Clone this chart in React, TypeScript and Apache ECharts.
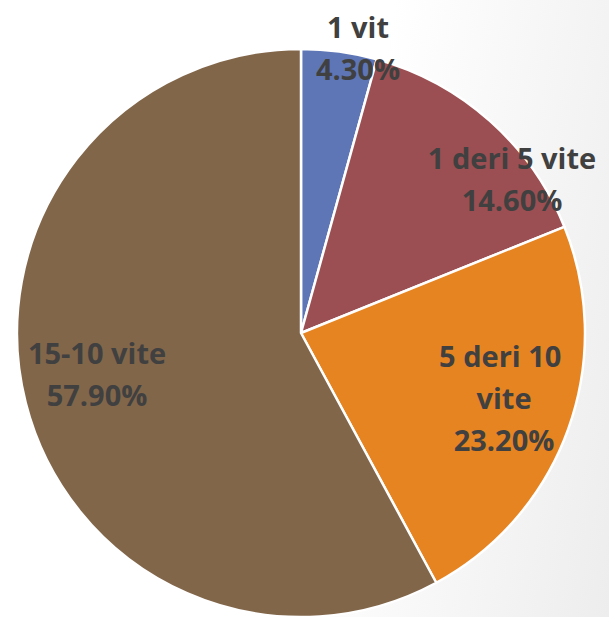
import React, { useEffect, useRef } from "react";
import * as echarts from "echarts";

const categories = ["1 vit", "1 deri 5 vite", "5 deri 10 vite", "15-10 vite"];
const values = [4.3, 14.6, 23.2, 57.9];
const colors = ["#5E76B6", "#9C4F52", "#E68422", "#82664A"];

// label centres (px) as laid out in the reference
const labelPos: [number, number][] = [
  [358, 47],
  [512, 178],
  [504, 397],
  [97, 373],
];

export default function App() {
  const ref = useRef<HTMLDivElement>(null);
  useEffect(() => {
    document.body.style.margin = "0";
    const chart = echarts.init(ref.current!, null, { renderer: "svg" });
    chart.setOption({
      animation: false,
      backgroundColor: "transparent",
      series: [
        {
          type: "pie",
          center: [301, 333],
          radius: 284,
          startAngle: 90,
          clockwise: true,
          data: categories.map((c, i) => ({
            name: c,
            value: values[i],
            itemStyle: { color: colors[i] },
            label: i === 2 ? { width: 140, overflow: "break" } : {},
          })),
          itemStyle: { borderColor: "#ffffff", borderWidth: 2.5 },
          labelLine: { show: false },
          label: {
            show: true,
            position: "inside",
            formatter: (p: any) => `${p.name}\n${p.value.toFixed(2)}%`,
            fontFamily: "Open Sans",
            fontWeight: "bold",
            fontSize: 29,
            lineHeight: 42,
            color: "#404040",
            align: "center",
          },
          labelLayout: (p: any) => ({
            x: labelPos[p.dataIndex][0],
            y: labelPos[p.dataIndex][1],
            align: "center",
            verticalAlign: "middle",
          }),
          emphasis: { disabled: true },
        },
      ],
    });
    return () => chart.dispose();
  }, []);
  return (
    <div
      style={{
        position: "absolute",
        left: 0,
        top: 0,
        width: 609,
        height: 617,
        background: "linear-gradient(100deg, #ffffff 55%, #ededed 100%)",
      }}
    >
      <div ref={ref} style={{ width: 609, height: 617 }} />
    </div>
  );
}
